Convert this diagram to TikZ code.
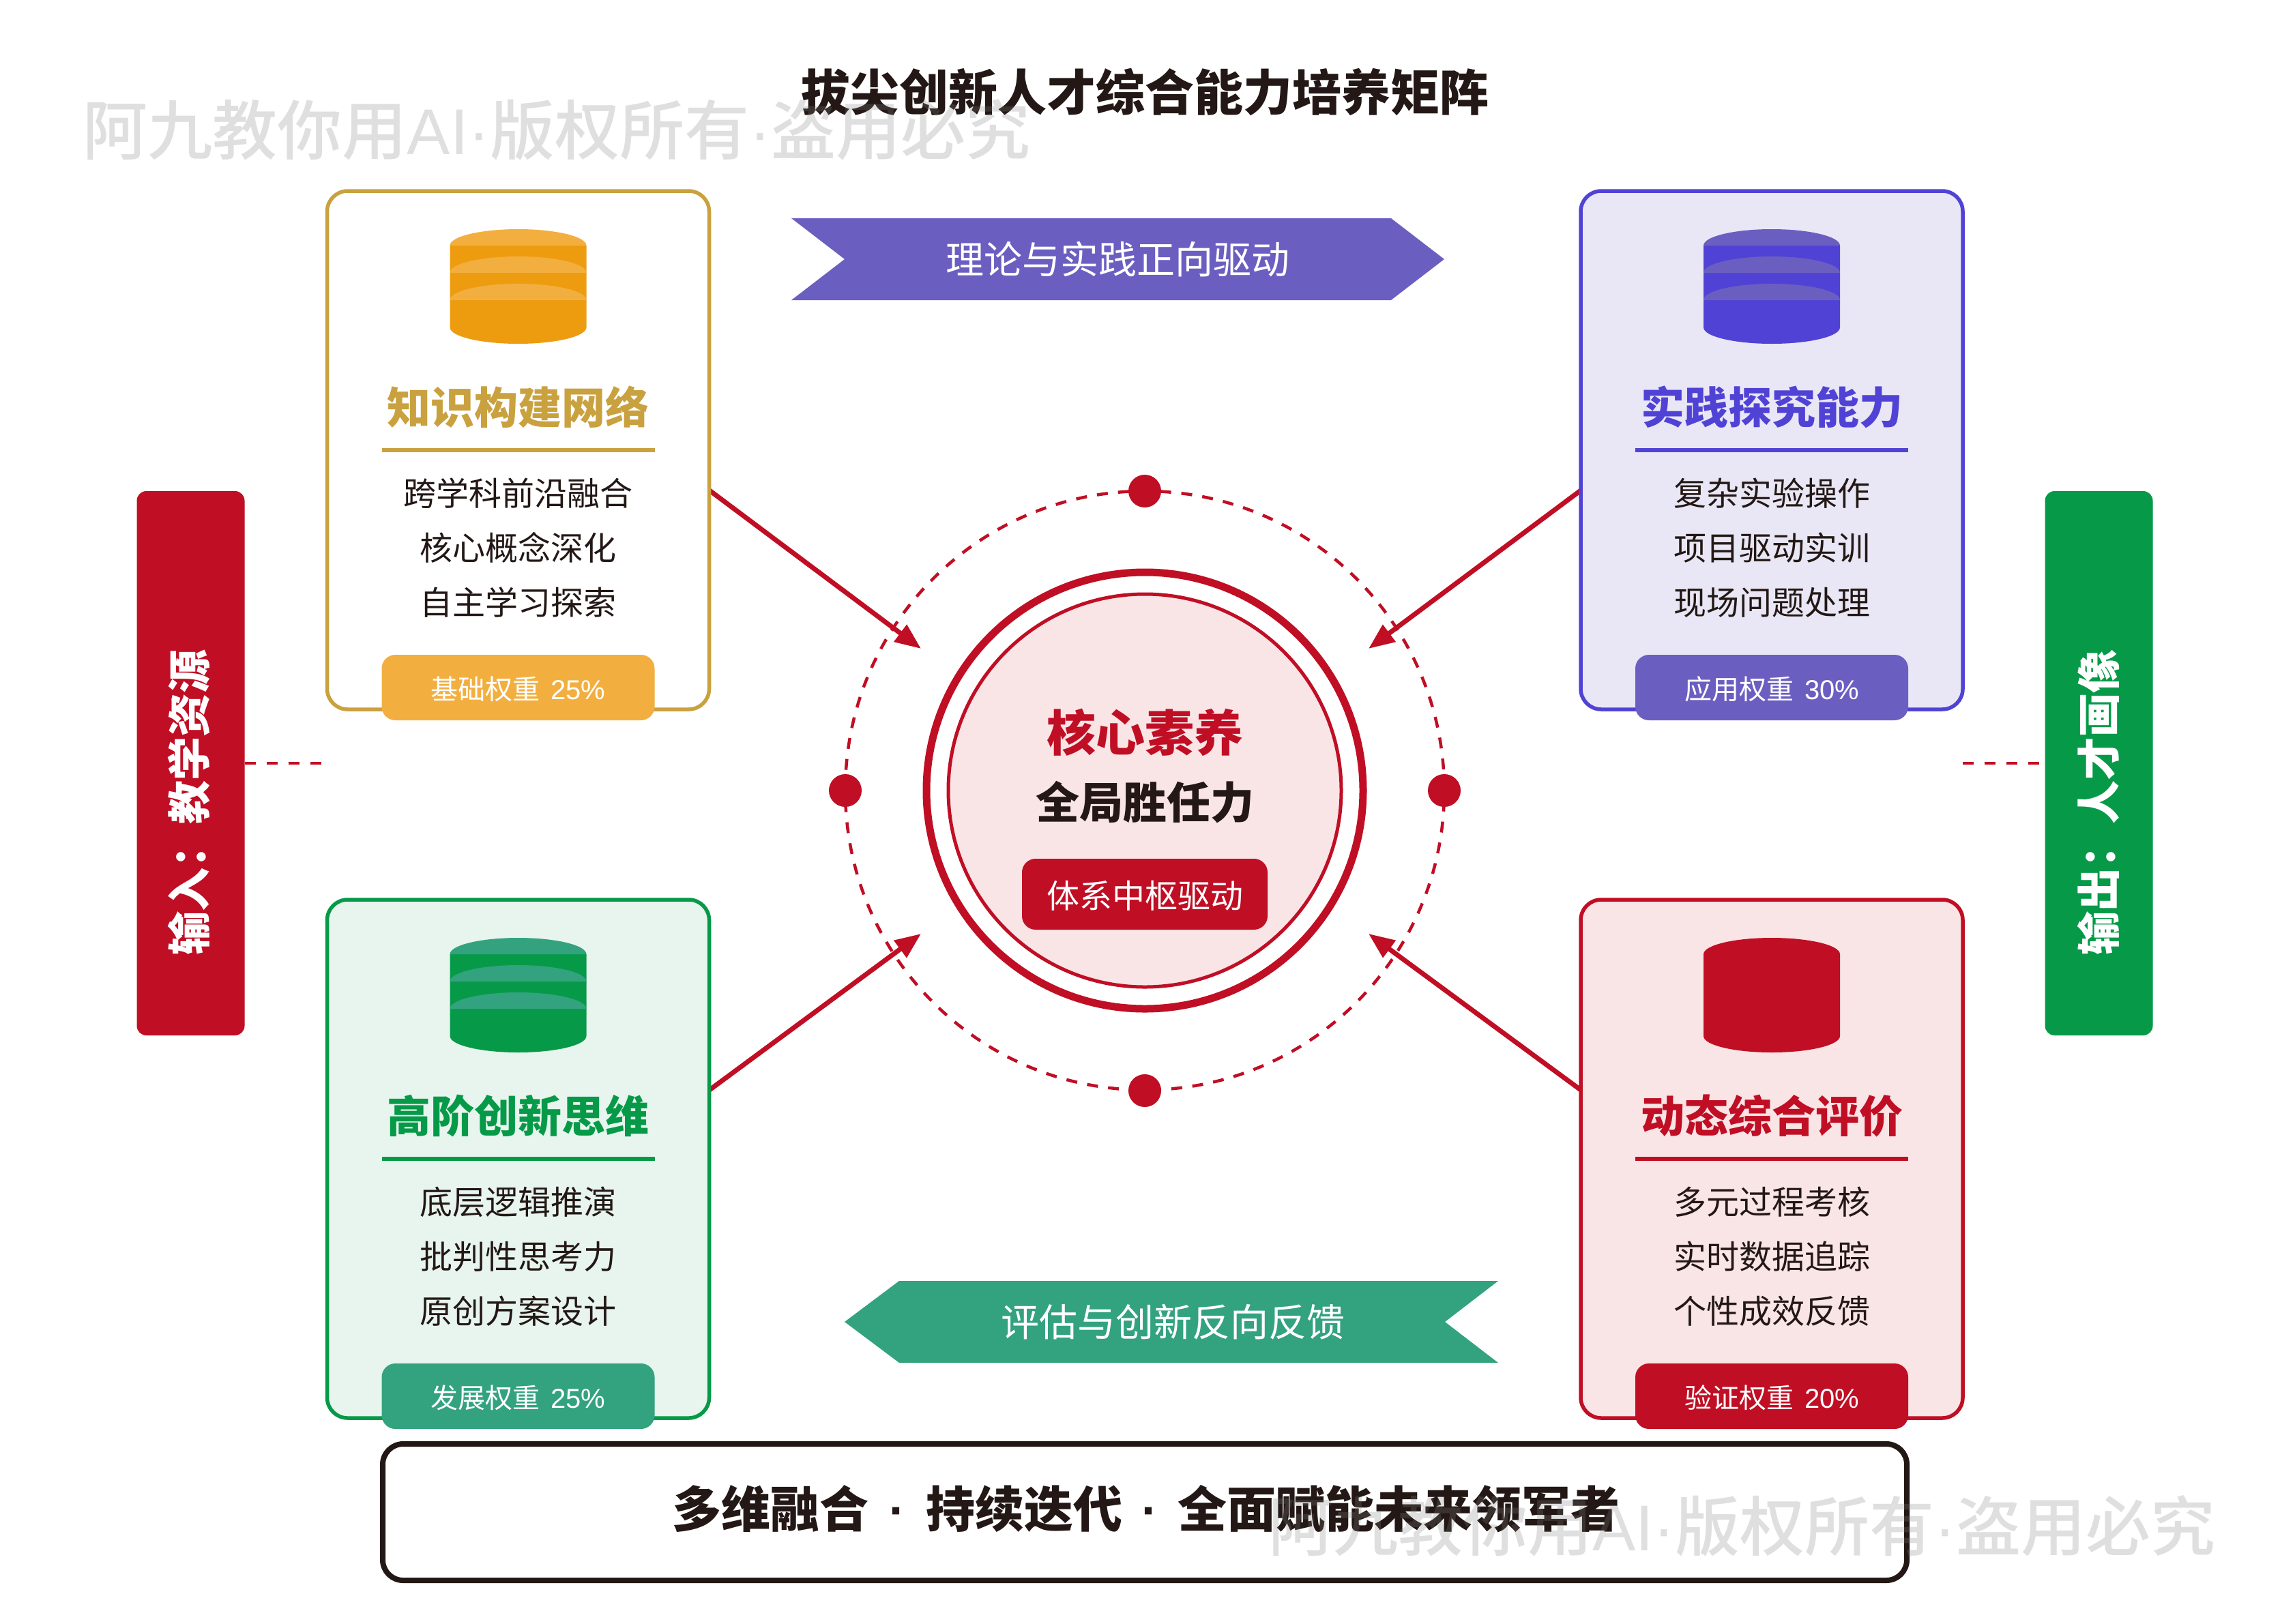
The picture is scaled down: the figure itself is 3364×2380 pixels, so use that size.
\documentclass[tikz,border=0pt]{standalone}
\usepackage{fontspec}
\usetikzlibrary{arrows.meta}
\setmainfont{Noto Sans CJK SC}
\newfontfamily\latinfont{Liberation Sans}
\newfontfamily\markfont{Noto Sans CJK SC Medium}

\definecolor{inkdark}{HTML}{231815}
\definecolor{goldline}{HTML}{C9A13F}
\definecolor{goldbase}{HTML}{EE9C0F}
\definecolor{goldsoft}{HTML}{F2AF40}
\definecolor{violetline}{HTML}{5142D6}
\definecolor{violetsoft}{HTML}{6A5FC1}
\definecolor{violetfill}{HTML}{E9E7F5}
\definecolor{greenline}{HTML}{069A48}
\definecolor{greensoft}{HTML}{33A27F}
\definecolor{greenfill}{HTML}{E7F5EE}
\definecolor{redline}{HTML}{C00E24}
\definecolor{redfill}{HTML}{F9E4E6}

\tikzset{
    cardbox/.style={draw=#1, line width=5.5pt, rounded corners=30pt, minimum width=560pt, minimum height=760pt, outer sep=0pt},
    cardtitle/.style={text=#1, font=\fontsize{64pt}{76pt}\selectfont\bfseries},
    cardlines/.style={text=inkdark, align=center, font=\fontsize{48pt}{80pt}\selectfont},
    cardrule/.style={draw=#1, line width=5.5pt},
    badgebox/.style={fill=#1, rounded corners=20pt, minimum width=400pt, minimum height=96pt},
    badgetext/.style={text=white, font=\fontsize{40pt}{48pt}\selectfont},
    sidebar/.style={fill=#1, rounded corners=14pt, minimum width=158pt, minimum height=798pt, outer sep=0pt},
    sidetext/.style={text=white, rotate=90, font=\fontsize{64pt}{76pt}\selectfont\bfseries},
    sidelink/.style={draw=redline, line width=4.5pt, dash pattern=on 16pt off 16pt},
    ribbontext/.style={text=white, font=\fontsize{56pt}{66pt}\selectfont},
    feedarrow/.style={draw=redline, line width=7pt, -{Triangle[length=38pt,width=30pt]}},
    orbitdot/.style={circle, fill=redline, minimum size=48pt, inner sep=0pt},
    watermark/.style={text=gray, text opacity=0.25, font=\fontsize{95pt}{110pt}\selectfont\markfont}
}

% stacked drum: x, y of top face, body colour, band colour
\newcommand{\drumicon}[4]{
    \fill[#3] (#1-100,#2) -- (#1-100,#2+120) arc[start angle=180, end angle=360, x radius=100pt, y radius=24pt] -- (#1+100,#2) -- cycle;
    \fill[#4] (#1-100,#2) arc[start angle=180, end angle=0, x radius=100pt, y radius=24pt] -- cycle;
    \fill[#4] (#1-100,#2+40) arc[start angle=180, end angle=0, x radius=100pt, y radius=24pt] -- cycle;
    \fill[#4] (#1-100,#2+80) arc[start angle=180, end angle=0, x radius=100pt, y radius=24pt] -- cycle;
}

\begin{document}
\begin{tikzpicture}[x=1pt, y=-1pt]
    \useasboundingbox (0,0) rectangle (3364,2380);

    % Title
    \node[text=inkdark, font=\fontsize{72pt}{84pt}\selectfont\bfseries] (title) at (1678,135) {拔尖创新人才综合能力培养矩阵};

    % Orbit and feeding arrows
    \coordinate (hubC) at (1678,1159);
    \coordinate (srcA) at (1040,719);
    \coordinate (srcB) at (2317,719);
    \coordinate (srcC) at (1040,1598);
    \coordinate (srcD) at (2317,1598);
    \coordinate (tipA) at (1350,951);
    \coordinate (tipB) at (2006,951);
    \coordinate (tipC) at (1350,1369);
    \coordinate (tipD) at (2006,1369);
    \draw[redline, line width=4.5pt, dash pattern=on 16pt off 15pt] (hubC) circle [radius=439pt];
    \draw[feedarrow] (srcA) -- (tipA);
    \draw[feedarrow] (srcB) -- (tipB);
    \draw[feedarrow] (srcC) -- (tipC);
    \draw[feedarrow] (srcD) -- (tipD);
    \node[orbitdot] (dotN) at (1678,720) {};
    \node[orbitdot] (dotS) at (1678,1599) {};
    \node[orbitdot] (dotW) at (1239,1159) {};
    \node[orbitdot] (dotE) at (2117,1159) {};

    % Core
    \node[circle, draw=redline, line width=11pt, fill=white, minimum size=640pt] (hubOuter) at (hubC) {};
    \node[circle, draw=redline, line width=5pt, fill=redfill, minimum size=576pt] (hubInner) at (hubC) {};
    \node[text=redline, font=\fontsize{72pt}{84pt}\selectfont\bfseries] (hubTitle) at (1678,1074) {核心素养};
    \node[text=inkdark, font=\fontsize{64pt}{76pt}\selectfont\bfseries] (hubSub) at (1678,1176) {全局胜任力};
    \node[fill=redline, rounded corners=20pt, minimum width=360pt, minimum height=104pt] (hubTag) at (1678,1311) {};
    \node[text=white, font=\fontsize{48pt}{56pt}\selectfont] (hubTagText) at (1678,1313) {体系中枢驱动};

    % Knowledge card
    \node[cardbox=goldline, fill=white] (cardA) at (759.5,660) {};
    \drumicon{759.5}{360}{goldbase}{goldsoft}
    \node[cardtitle=goldline] (titleA) at (759.5,597) {知识构建网络};
    \draw[cardrule=goldline] (560,660) -- (960,660);
    \node[cardlines] (linesA) at (759.5,803) {跨学科前沿融合\\核心概念深化\\自主学习探索};
    \node[badgebox=goldsoft] (badgeA) at (759.5,1008) {};
    \node[badgetext] (badgeTextA) at (759.5,1010) {基础权重\hspace{16pt}{\latinfont 25\%}};

    % Practice card
    \node[cardbox=violetline, fill=violetfill] (cardB) at (2597,660) {};
    \drumicon{2597}{360}{violetline}{violetsoft}
    \node[cardtitle=violetline] (titleB) at (2597,597) {实践探究能力};
    \draw[cardrule=violetline] (2397,660) -- (2797,660);
    \node[cardlines] (linesB) at (2597,803) {复杂实验操作\\项目驱动实训\\现场问题处理};
    \node[badgebox=violetsoft] (badgeB) at (2597,1008) {};
    \node[badgetext] (badgeTextB) at (2597,1010) {应用权重\hspace{16pt}{\latinfont 30\%}};

    % Innovation card
    \node[cardbox=greenline, fill=greenfill] (cardC) at (759.5,1699) {};
    \drumicon{759.5}{1399}{greenline}{greensoft}
    \node[cardtitle=greenline] (titleC) at (759.5,1636) {高阶创新思维};
    \draw[cardrule=greenline] (560,1699) -- (960,1699);
    \node[cardlines] (linesC) at (759.5,1842) {底层逻辑推演\\批判性思考力\\原创方案设计};
    \node[badgebox=greensoft] (badgeC) at (759.5,2047) {};
    \node[badgetext] (badgeTextC) at (759.5,2049) {发展权重\hspace{16pt}{\latinfont 25\%}};

    % Evaluation card
    \node[cardbox=redline, fill=redfill] (cardD) at (2597,1699) {};
    \drumicon{2597}{1399}{redline}{redline}
    \node[cardtitle=redline] (titleD) at (2597,1636) {动态综合评价};
    \draw[cardrule=redline] (2397,1699) -- (2797,1699);
    \node[cardlines] (linesD) at (2597,1842) {多元过程考核\\实时数据追踪\\个性成效反馈};
    \node[badgebox=redline] (badgeD) at (2597,2047) {};
    \node[badgetext] (badgeTextD) at (2597,2049) {验证权重\hspace{16pt}{\latinfont 20\%}};

    % Ribbons
    \fill[violetsoft] (1160,320) -- (2039,320) -- (2117,380) -- (2039,440) -- (1160,440) -- (1238,380) -- cycle;
    \node[ribbontext] (ribbonTop) at (1638,380) {理论与实践正向驱动};
    \fill[greensoft] (2196,1878) -- (1318,1878) -- (1238,1938) -- (1318,1998) -- (2196,1998) -- (2118,1938) -- cycle;
    \node[ribbontext] (ribbonLow) at (1719,1938) {评估与创新反向反馈};

    % Side bars
    \node[sidebar=redline] (inbar) at (279.5,1119) {};
    \node[sidetext] (intext) at (277,1176) {输入：教学资源};
    \draw[sidelink] (inbar.east) -- (inbar.east -| cardA.west);
    \node[sidebar=greenline] (outbar) at (3076.5,1119) {};
    \node[sidetext] (outtext) at (3076,1176) {输出：人才画像};
    \draw[sidelink] (outbar.west -| cardB.east) -- (outbar.west);

    % Closing box
    \node[draw=inkdark, fill=white, line width=8pt, rounded corners=30pt, minimum width=2234pt, minimum height=200pt] (closing) at (1678,2217) {};
    \node[text=inkdark, font=\fontsize{72pt}{84pt}\selectfont\bfseries] (closingText) at (1680,2212) {多维融合\hspace{30pt}{\latinfont ·}\hspace{30pt}持续迭代\hspace{28pt}{\latinfont ·}\hspace{30pt}全面赋能未来领军者};

    % Watermarks
    \node[watermark] (markA) at (816,190) {阿九教你用{\latinfont AI·}版权所有{\latinfont ·}盗用必究};
    \node[watermark] (markB) at (2553,2237) {阿九教你用{\latinfont AI·}版权所有{\latinfont ·}盗用必究};
\end{tikzpicture}
\end{document}
